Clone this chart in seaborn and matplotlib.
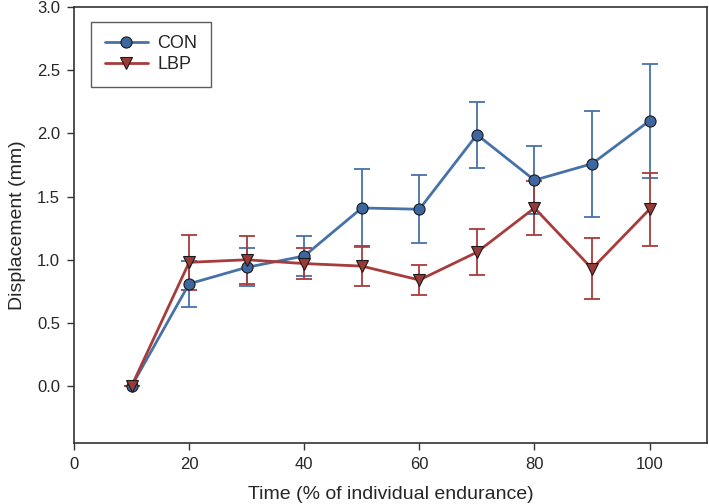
import matplotlib
matplotlib.use("Agg")
import matplotlib.pyplot as plt
import seaborn as sns
import pandas as pd
import numpy as np

time = [10, 20, 30, 40, 50, 60, 70, 80, 90, 100]
con_mean = [0.0, 0.81, 0.94, 1.03, 1.41, 1.40, 1.99, 1.63, 1.76, 2.10]
con_err = [0.0, 0.18, 0.15, 0.16, 0.31, 0.27, 0.26, 0.27, 0.42, 0.45]
lbp_mean = [0.0, 0.98, 1.00, 0.97, 0.95, 0.84, 1.06, 1.41, 0.93, 1.40]
lbp_err = [0.0, 0.22, 0.19, 0.12, 0.16, 0.12, 0.18, 0.21, 0.24, 0.29]

sns.set_style("ticks")
plt.rcParams['font.family'] = ['Liberation Sans', 'DejaVu Sans']

fig = plt.figure(figsize=(7.09, 5.04), dpi=100)
ax = fig.add_axes([0.1044, 0.121, 0.893, 0.865])

blue = "#4672a8"
blue_fill = "#3d679e"
red = "#a83c3c"
red_fill = "#9a3a36"

df = pd.DataFrame({
    "time": time * 2,
    "value": con_mean + lbp_mean,
    "group": ["CON"] * len(time) + ["LBP"] * len(time),
})

ax.errorbar(time, con_mean, yerr=con_err, fmt="none", ecolor=blue, elinewidth=1.3,
            capsize=6, capthick=1.3, zorder=2)
ax.errorbar(time, lbp_mean, yerr=lbp_err, fmt="none", ecolor=red, elinewidth=1.3,
            capsize=6, capthick=1.3, zorder=2)

sns.lineplot(data=df[df.group == "CON"], x="time", y="value", ax=ax, color=blue,
             marker="o", markersize=8, markerfacecolor=blue_fill, markeredgecolor="#1a1a1a",
             markeredgewidth=0.8, linewidth=2, label="CON", zorder=3)
sns.lineplot(data=df[df.group == "LBP"], x="time", y="value", ax=ax, color=red,
             marker="v", markersize=9, markerfacecolor=red_fill, markeredgecolor="#1a1a1a",
             markeredgewidth=0.8, linewidth=2, label="LBP", zorder=4)

ax.set_xlim(0, 110)
ax.set_ylim(-0.45, 3.0)
ax.set_xticks([0, 20, 40, 60, 80, 100])
ax.set_yticks([0.0, 0.5, 1.0, 1.5, 2.0, 2.5, 3.0])
ax.set_yticklabels(["0.0", "0.5", "1.0", "1.5", "2.0", "2.5", "3.0"])
ax.tick_params(axis="both", direction="out", length=5, width=1, labelsize=12,
               color="#333333", pad=5)
ax.set_xlabel("Time (% of individual endurance)", fontsize=14, labelpad=10)
ax.set_ylabel("Displacement (mm)", fontsize=14, labelpad=8)
for s in ax.spines.values():
    s.set_linewidth(1.2)
    s.set_color("#333333")

leg = ax.legend(loc="upper left", bbox_to_anchor=(0.027, 0.966), borderaxespad=0,
                fontsize=13, frameon=True, fancybox=False, edgecolor="#333333",
                handlelength=2.4, handletextpad=0.5, borderpad=0.75, labelspacing=0.2)
leg.get_frame().set_linewidth(1.0)

fig.savefig("out.png", dpi=100)
